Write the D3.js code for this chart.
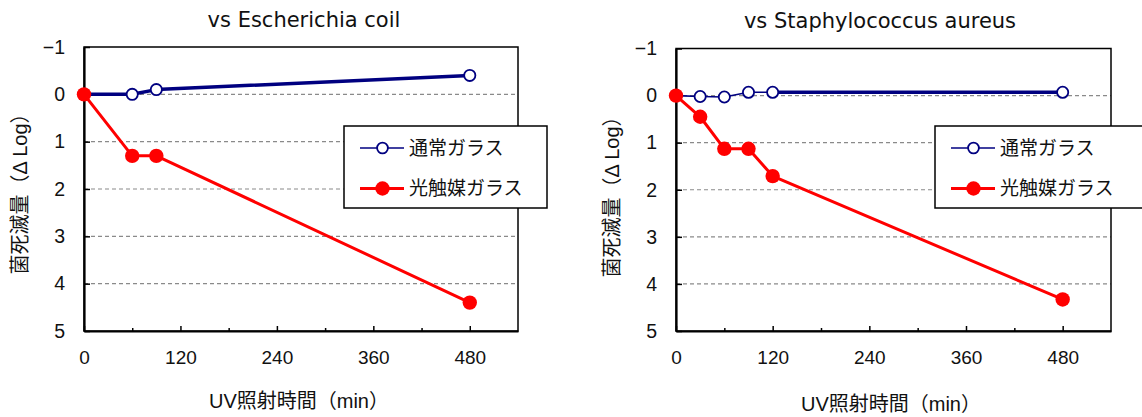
<!DOCTYPE html>
<html><head><meta charset="utf-8">
<script src="https://cdn.jsdelivr.net/npm/d3@7"></script>
<style>
body{margin:0;background:#fff;}
svg{display:block;font-family:"Liberation Sans","Noto Sans CJK JP",sans-serif;}
</style></head><body>
<svg id="c" width="1142" height="417"></svg>
<script>
// ---- data ----
const seriesNames = ["通常ガラス", "光触媒ガラス"];
const titleE = "vs Escherichia coil";
const timeE = [0, 60, 90, 480];
const normalE = [0, 0.0, -0.1, -0.4];
const photoE = [0, 1.3, 1.3, 4.4];
const titleS = "vs Staphylococcus aureus";
const timeS = [0, 30, 60, 90, 120, 480];
const normalS = [0, 0.02, 0.03, -0.07, -0.07, -0.07];
const photoS = [0, 0.45, 1.13, 1.13, 1.71, 4.33];
const xMajorTicks = [0, 120, 240, 360, 480];
const xMinorTicks = [60, 180, 300, 420];
const yTicks = [-1, 0, 1, 2, 3, 4, 5];
const gridTicks = [0, 1, 2, 3, 4];
const xTitle = "UV照射時間（min）";
const yTitle = "菌死滅量（Δ Log）";

const svg = d3.select("#c");
const BLUE = "#000080", RED = "#ff0000";
const fmtInt = d3.format("d");

function panel(o) {
  const x = d3.scaleLinear().domain([0, 540]).range([o.left, o.right]);
  const y = d3.scaleLinear().domain([-1, 5]).range([o.top, o.bottom]);
  const g = svg.append("g");

  // grid
  g.selectAll(".grid").data(gridTicks).join("line")
    .attr("x1", o.left).attr("x2", o.right)
    .attr("y1", d => y(d)).attr("y2", d => y(d))
    .attr("stroke", "#8a8a8a").attr("stroke-width", 1.2).attr("stroke-dasharray", "4,3");

  // frame
  g.append("rect").attr("x", o.left).attr("y", o.top)
    .attr("width", o.right - o.left).attr("height", o.bottom - o.top)
    .attr("fill", "none").attr("stroke", "#000").attr("stroke-width", 1.5);

  // y axis
  const ya = g.append("g").attr("transform", `translate(${o.left},0)`)
    .call(d3.axisLeft(y).tickValues(yTicks).tickFormat(fmtInt).tickSizeInner(-6).tickSizeOuter(0).tickPadding(19));
  ya.select(".domain").attr("stroke-width", 2.2);
  ya.selectAll("text").attr("font-size", 19.5).attr("fill", "#111");
  ya.selectAll(".tick line").attr("stroke-width", 1.5);

  // x axis major
  const xa = g.append("g").attr("transform", `translate(0,${o.bottom})`)
    .call(d3.axisBottom(x).tickValues(xMajorTicks).tickSizeInner(-5).tickSizeOuter(0).tickPadding(20));
  xa.select(".domain").attr("stroke-width", 2.2);
  xa.selectAll("text").attr("font-size", 19).attr("fill", "#111");
  xa.selectAll(".tick line").attr("stroke-width", 1.5);
  const xm = g.append("g").attr("transform", `translate(0,${o.bottom})`)
    .call(d3.axisBottom(x).tickValues(xMinorTicks).tickSizeInner(-3).tickSizeOuter(0).tickFormat(""));
  xm.select(".domain").remove();
  xm.selectAll(".tick line").attr("stroke-width", 1.5);

  // titles
  g.append("text").attr("x", o.titleX).attr("y", o.titleY).attr("text-anchor", "middle")
    .attr("font-family", "'DejaVu Sans',sans-serif")
    .attr("font-size", 21).attr("fill", "#111").text(o.title);
  g.append("text").attr("x", o.xtX).attr("y", o.xtY).attr("text-anchor", "middle")
    .attr("font-size", 20).attr("fill", "#111").text(xTitle);
  g.append("text").attr("transform", `translate(${o.ytX},${o.ytY}) rotate(-90)`)
    .attr("text-anchor", "middle").attr("dominant-baseline", "central")
    .attr("font-size", 20).attr("fill", "#111").text(yTitle);

  // normal glass line, per segment widths
  const nPts = o.time.map((t, i) => [t, o.normal[i]]);
  const segs = d3.pairs(nPts);
  g.selectAll(".nseg").data(segs).join("line")
    .attr("x1", d => x(d[0][0])).attr("y1", d => y(d[0][1]))
    .attr("x2", d => x(d[1][0])).attr("y2", d => y(d[1][1]))
    .attr("stroke", BLUE).attr("stroke-linecap", "round")
    .attr("stroke-width", (d, i) => o.normalWidths[i]);
  g.selectAll(".nmark").data(nPts).join("circle")
    .attr("cx", d => x(d[0])).attr("cy", d => y(d[1])).attr("r", 5.6)
    .attr("fill", "#fff").attr("stroke", BLUE).attr("stroke-width", 1.8);

  // photocatalyst line
  const pPts = o.time.map((t, i) => [t, o.photo[i]]);
  g.append("path").datum(pPts)
    .attr("d", d3.line().x(d => x(d[0])).y(d => y(d[1])))
    .attr("fill", "none").attr("stroke", RED).attr("stroke-width", 3).attr("stroke-linejoin", "round");
  g.selectAll(".pmark").data(pPts).join("circle")
    .attr("cx", d => x(d[0])).attr("cy", d => y(d[1])).attr("r", 7.2).attr("fill", RED);

  // legend
  const L = o.legend;
  g.append("rect").attr("x", L.x).attr("y", L.y).attr("width", L.w).attr("height", L.h)
    .attr("fill", "#fff").attr("stroke", "#000").attr("stroke-width", 1.5);
  const rows = [
    {name: seriesNames[0], c: BLUE, lw: 1.6, open: true, y: L.y + 22},
    {name: seriesNames[1], c: RED, lw: 3, open: false, y: L.y + 62.5}
  ];
  rows.forEach(r => {
    g.append("line").attr("x1", L.x + 16).attr("x2", L.x + 60).attr("y1", r.y).attr("y2", r.y)
      .attr("stroke", r.c).attr("stroke-width", r.lw);
    g.append("circle").attr("cx", L.x + 38.5).attr("cy", r.y).attr("r", r.open ? 5.4 : 7.2)
      .attr("fill", r.open ? "#fff" : r.c).attr("stroke", r.open ? r.c : "none").attr("stroke-width", 1.8);
    g.append("text").attr("x", L.x + 65).attr("y", r.y).attr("dominant-baseline", "central")
      .attr("font-size", 19).attr("fill", "#111").text(r.name);
  });
}

panel({left: 84, right: 518, top: 47, bottom: 331, title: titleE, titleX: 304, titleY: 27,
  xtX: 299, xtY: 408, ytX: 20, ytY: 189,
  time: timeE, normal: normalE, photo: photoE, normalWidths: [3.5, 3.5, 3.5],
  legend: {x: 344, y: 126, w: 203, h: 82}});
panel({left: 676, right: 1111, top: 48.5, bottom: 331, title: titleS, titleX: 880, titleY: 28,
  xtX: 891, xtY: 411, ytX: 612, ytY: 192,
  time: timeS, normal: normalS, photo: photoS, normalWidths: [1.6, 1.6, 1.6, 1.6, 3.5],
  legend: {x: 935, y: 126, w: 210, h: 82}});
</script>
</body></html>
